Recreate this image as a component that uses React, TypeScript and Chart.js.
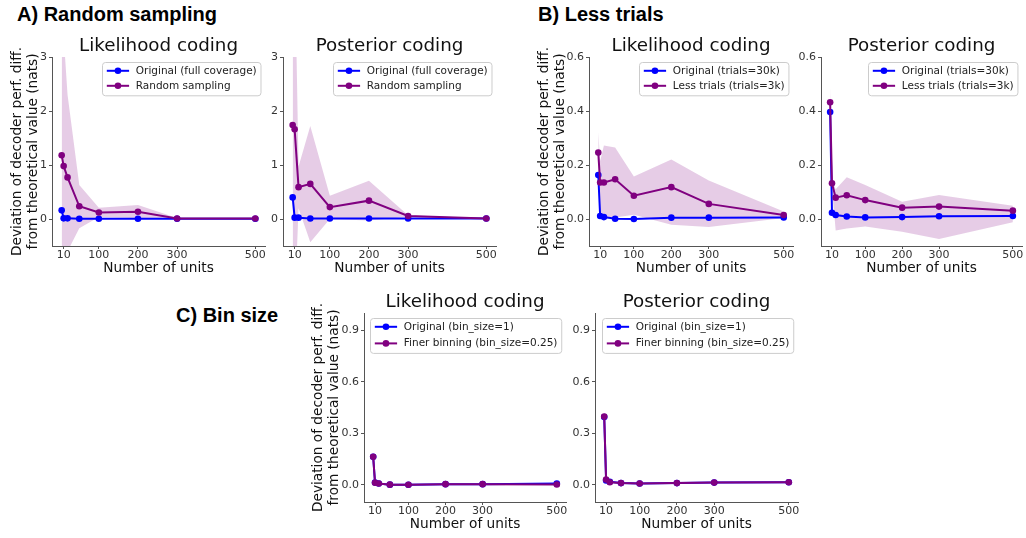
import React, { useEffect, useRef } from "react";
import { Chart, registerables } from "chart.js";

Chart.register(...registerables);

const FONT = '"DejaVu Sans", sans-serif';
const BLUE = "#0000ff";
const PURPLE = "#800080";
const BAND = "rgba(128, 0, 128, 0.2)";
const AXIS = "#555555";
const TICK_TEXT = "#333333";

// ---------- data ----------
const UNITS = [5, 10, 20, 50, 100, 200, 300, 500];
const X_TICKS = [10, 100, 200, 300, 500];
const X_TICK_LABELS = ["10", "100", "200", "300", "500"];
const X_MIN = -19.75;
const X_MAX = 524.75;

const A_Y_TICKS = [0, 1, 2, 3];
const A_Y_LABELS = ["0", "1", "2", "3"];
const B_Y_TICKS = [0, 0.2, 0.4, 0.6];
const B_Y_LABELS = ["0.0", "0.2", "0.4", "0.6"];
const C_Y_TICKS = [0, 0.3, 0.6, 0.9];
const C_Y_LABELS = ["0.0", "0.3", "0.6", "0.9"];

// A) Random sampling
const A_LIK_ORIG = [0.16, 0.012, 0.012, 0.005, 0.005, 0.005, 0.005, 0.005];
const A_LIK_RAND = [1.18, 0.98, 0.77, 0.235, 0.12, 0.135, 0.008, 0.008];
const A_LIK_RAND_UP = [4.4, 3.4, 2.3, 0.63, 0.21, 0.26, 0.02, 0.012];
const A_LIK_RAND_LO = [-2.0, -1.4, -0.6, -0.17, 0.035, 0.015, 0.0, 0.005];

const A_POST_ORIG = [0.4, 0.025, 0.025, 0.01, 0.01, 0.01, 0.01, 0.01];
const A_POST_RAND = [1.74, 1.66, 0.59, 0.65, 0.22, 0.34, 0.055, 0.01];
const A_POST_RAND_UP = [4.8, 5.0, 0.97, 1.72, 0.43, 0.71, 0.07, 0.015];
const A_POST_RAND_LO = [-1.3, -1.7, 0.2, -0.43, 0.0, -0.03, 0.04, 0.005];

// B) Less trials
const B_LIK_ORIG = [0.163, 0.011, 0.007, 0.001, 0.0, 0.005, 0.005, 0.006];
const B_LIK_LESS = [0.246, 0.135, 0.135, 0.147, 0.086, 0.118, 0.056, 0.015];
const B_LIK_LESS_UP = [0.322, 0.215, 0.272, 0.265, 0.157, 0.22, 0.143, 0.028];
const B_LIK_LESS_LO = [0.17, 0.0, 0.0, 0.006, 0.016, -0.021, -0.03, 0.004];

const B_POST_ORIG = [0.396, 0.023, 0.015, 0.009, 0.006, 0.007, 0.01, 0.011];
const B_POST_LESS = [0.432, 0.132, 0.079, 0.088, 0.07, 0.042, 0.046, 0.031];
const B_POST_LESS_UP = [0.49, 0.15, 0.11, 0.155, 0.126, 0.064, 0.089, 0.049];
const B_POST_LESS_LO = [0.374, 0.114, -0.043, -0.035, -0.028, -0.047, -0.074, -0.012];

// C) Bin size
const C_LIK_ORIG = [0.163, 0.013, 0.008, 0.001, 0.0, 0.004, 0.004, 0.008];
const C_LIK_FINE = [0.163, 0.012, 0.008, 0.001, 0.0, 0.004, 0.004, 0.002];
const C_POST_ORIG = [0.395, 0.025, 0.018, 0.01, 0.008, 0.01, 0.013, 0.015];
const C_POST_FINE = [0.397, 0.031, 0.015, 0.01, 0.008, 0.01, 0.013, 0.015];

const Y_TITLE = ["Deviation of decoder perf. diff.", "from theoretical value (nats)"];
const X_TITLE = "Number of units";

const A_LABELS = ["Original (full coverage)", "Random sampling"];
const B_LABELS = ["Original (trials=30k)", "Less trials (trials=3k)"];
const C_LABELS = ["Original (bin_size=1)", "Finer binning (bin_size=0.25)"];

// ---------- layout ----------
const TITLE_H = 20;
const XSCALE_H = 31;
const PAD_BOTTOM = 4;

type Geom = { L: number; T: number; R: number; B: number; yW: number; padR: number };

type Spec = {
  title: string;
  geom: Geom;
  yMin: number;
  yMax: number;
  yTicks: number[];
  yLabels: string[];
  yTitle: boolean;
  orig: number[];
  other: number[];
  upper?: number[];
  lower?: number[];
  labels: string[];
  rowGap: number;
};

const SPECS: Spec[] = [
  {
    title: "Likelihood coding",
    geom: { L: 52, T: 57, R: 265, B: 246, yW: 43, padR: 12 },
    yMin: -0.5, yMax: 3, yTicks: A_Y_TICKS, yLabels: A_Y_LABELS, yTitle: true,
    orig: A_LIK_ORIG, other: A_LIK_RAND, upper: A_LIK_RAND_UP, lower: A_LIK_RAND_LO,
    labels: A_LABELS, rowGap: 15,
  },
  {
    title: "Posterior coding",
    geom: { L: 283, T: 57, R: 496, B: 246, yW: 30, padR: 12 },
    yMin: -0.5, yMax: 3, yTicks: A_Y_TICKS, yLabels: A_Y_LABELS, yTitle: false,
    orig: A_POST_ORIG, other: A_POST_RAND, upper: A_POST_RAND_UP, lower: A_POST_RAND_LO,
    labels: A_LABELS, rowGap: 15,
  },
  {
    title: "Likelihood coding",
    geom: { L: 589, T: 57, R: 793, B: 246, yW: 53, padR: 12 },
    yMin: -0.1, yMax: 0.6, yTicks: B_Y_TICKS, yLabels: B_Y_LABELS, yTitle: true,
    orig: B_LIK_ORIG, other: B_LIK_LESS, upper: B_LIK_LESS_UP, lower: B_LIK_LESS_LO,
    labels: B_LABELS, rowGap: 15,
  },
  {
    title: "Posterior coding",
    geom: { L: 821, T: 57, R: 1023, B: 246, yW: 30, padR: 3 },
    yMin: -0.1, yMax: 0.6, yTicks: B_Y_TICKS, yLabels: B_Y_LABELS, yTitle: false,
    orig: B_POST_ORIG, other: B_POST_LESS, upper: B_POST_LESS_UP, lower: B_POST_LESS_LO,
    labels: B_LABELS, rowGap: 15,
  },
  {
    title: "Likelihood coding",
    geom: { L: 364, T: 313, R: 566, B: 502, yW: 54, padR: 12 },
    yMin: -0.1, yMax: 1.0, yTicks: C_Y_TICKS, yLabels: C_Y_LABELS, yTitle: true,
    orig: C_LIK_ORIG, other: C_LIK_FINE,
    labels: C_LABELS, rowGap: 16.6,
  },
  {
    title: "Posterior coding",
    geom: { L: 595, T: 313, R: 798, B: 502, yW: 30, padR: 12 },
    yMin: -0.1, yMax: 1.0, yTicks: C_Y_TICKS, yLabels: C_Y_LABELS, yTitle: false,
    orig: C_POST_ORIG, other: C_POST_FINE,
    labels: C_LABELS, rowGap: 16.6,
  },
];

function pts(values: number[]) {
  return UNITS.map((u, i) => ({ x: u, y: values[i] }));
}

function roundedRect(ctx: CanvasRenderingContext2D, x: number, y: number, w: number, h: number, r: number) {
  ctx.beginPath();
  ctx.moveTo(x + r, y);
  ctx.lineTo(x + w - r, y);
  ctx.arcTo(x + w, y, x + w, y + r, r);
  ctx.lineTo(x + w, y + h - r);
  ctx.arcTo(x + w, y + h, x + w - r, y + h, r);
  ctx.lineTo(x + r, y + h);
  ctx.arcTo(x, y + h, x, y + h - r, r);
  ctx.lineTo(x, y + r);
  ctx.arcTo(x, y, x + r, y, r);
  ctx.closePath();
}

const boxLegend = {
  id: "boxLegend",
  afterDraw(chart: any, _args: any, opts: any) {
    const items = (opts && opts.items) as { text: string; color: string }[];
    if (!items || !items.length) return;
    const { ctx, chartArea } = chart;
    ctx.save();
    ctx.font = `${opts.fontSize}px ${FONT}`;
    let tw = 0;
    for (const it of items) tw = Math.max(tw, ctx.measureText(it.text).width);
    const padL = 4.3, handle = 22.3, gap = 6.7, padR = 4.3, padT = 8.3, padB = 10;
    const w = padL + handle + gap + tw + padR;
    const h = padT + (items.length - 1) * opts.rowGap + padB;
    const x0 = Math.round(chartArea.right - opts.inset - w) + 0.5;
    const y0 = Math.round(chartArea.top + opts.inset) + 0.5;
    roundedRect(ctx, x0, y0, w, h, 3);
    ctx.fillStyle = "rgba(255,255,255,0.8)";
    ctx.fill();
    ctx.strokeStyle = "#cccccc";
    ctx.lineWidth = 1;
    ctx.stroke();
    items.forEach((it, i) => {
      const cy = y0 + padT + i * opts.rowGap;
      ctx.strokeStyle = it.color;
      ctx.lineWidth = 2;
      ctx.beginPath();
      ctx.moveTo(x0 + padL, cy);
      ctx.lineTo(x0 + padL + handle, cy);
      ctx.stroke();
      ctx.fillStyle = it.color;
      ctx.beginPath();
      ctx.arc(x0 + padL + handle / 2, cy, 3.3, 0, Math.PI * 2);
      ctx.fill();
      ctx.fillStyle = "#222222";
      ctx.textBaseline = "middle";
      ctx.textAlign = "left";
      ctx.fillText(it.text, x0 + padL + handle + gap, cy);
    });
    ctx.restore();
  },
};

function canvasBox(g: Geom) {
  return {
    left: g.L - g.yW,
    top: g.T - TITLE_H,
    w: g.yW + (g.R - g.L) + g.padR,
    h: TITLE_H + (g.B - g.T) + XSCALE_H + PAD_BOTTOM,
  };
}

function makeConfig(s: Spec): any {
  const datasets: any[] = [];
  if (s.upper && s.lower) {
    datasets.push({
      label: "lower", data: pts(s.lower), borderWidth: 0, borderColor: "rgba(0,0,0,0)",
      pointRadius: 0, fill: false, order: 3,
    });
    datasets.push({
      label: "upper", data: pts(s.upper), borderWidth: 0, borderColor: "rgba(0,0,0,0)",
      backgroundColor: BAND, pointRadius: 0, fill: "-1", order: 2,
    });
  }
  const line = (label: string, values: number[], color: string, order: number) => ({
    label, data: pts(values), borderColor: color, backgroundColor: color, borderWidth: 2,
    pointRadius: 3.3, pointBorderWidth: 0, pointBackgroundColor: color, pointBorderColor: color,
    fill: false, order,
  });
  datasets.push(line(s.labels[0], s.orig, BLUE, 1));
  datasets.push(line(s.labels[1], s.other, PURPLE, 0));

  const grid = { display: true, drawOnChartArea: false, drawTicks: true, tickLength: 3, color: AXIS, lineWidth: 1 };
  const border = { display: true, color: AXIS, width: 1 };

  return {
    type: "line",
    data: { datasets },
    plugins: [boxLegend],
    options: {
      animation: false,
      responsive: false,
      maintainAspectRatio: false,
      devicePixelRatio: 1,
      events: [],
      layout: { padding: { left: 0, top: 0, right: s.geom.padR, bottom: PAD_BOTTOM } },
      scales: {
        x: {
          type: "linear",
          min: X_MIN,
          max: X_MAX,
          afterBuildTicks: (sc: any) => { sc.ticks = X_TICKS.map((v) => ({ value: v })); },
          afterFit: (sc: any) => { sc.height = XSCALE_H; },
          ticks: {
            autoSkip: false, maxRotation: 0, padding: 0, color: TICK_TEXT,
            font: { family: FONT, size: 11 },
            callback: (v: number) => X_TICK_LABELS[X_TICKS.indexOf(v)],
          },
          grid, border,
          title: { display: true, text: X_TITLE, color: "#111111", font: { family: FONT, size: 13.7 }, padding: { top: 0, bottom: 0 } },
        },
        y: {
          type: "linear",
          min: s.yMin,
          max: s.yMax,
          afterBuildTicks: (sc: any) => { sc.ticks = s.yTicks.map((v) => ({ value: v })); },
          afterFit: (sc: any) => { sc.width = s.geom.yW; },
          ticks: {
            padding: 2, color: TICK_TEXT, font: { family: FONT, size: 11 },
            callback: (v: number) => s.yLabels[s.yTicks.indexOf(v)],
          },
          grid, border,
          title: {
            display: s.yTitle, text: Y_TITLE, color: "#111111",
            font: { family: FONT, size: 13.7 }, padding: { top: 0, bottom: 0 },
          },
        },
      },
      plugins: {
        legend: { display: false },
        tooltip: { enabled: false },
        title: {
          display: true, text: s.title, color: "#111111", fullSize: false,
          font: { family: FONT, size: 18.3, weight: "normal", lineHeight: 1 },
          padding: { top: 0, bottom: 1.7 },
        },
        boxLegend: {
          items: [{ text: s.labels[0], color: BLUE }, { text: s.labels[1], color: PURPLE }],
          fontSize: 10.5, rowGap: s.rowGap, inset: 5,
        },
      },
    },
  };
}

function Panel({ spec }: { spec: Spec }) {
  const ref = useRef<HTMLCanvasElement>(null);
  const box = canvasBox(spec.geom);
  useEffect(() => {
    if (!ref.current) return;
    const chart = new Chart(ref.current, makeConfig(spec));
    return () => chart.destroy();
  }, [spec]);
  return (
    <canvas
      ref={ref}
      width={box.w}
      height={box.h}
      style={{ position: "absolute", left: box.left, top: box.top, width: box.w, height: box.h }}
    />
  );
}

const HEAD_STYLE: React.CSSProperties = {
  position: "absolute",
  fontFamily: '"Liberation Sans", Arial, sans-serif',
  fontWeight: "bold",
  fontSize: "20px",
  lineHeight: "20px",
  color: "#000",
  whiteSpace: "nowrap",
};

export default function App() {
  return (
    <div
      style={{
        position: "fixed", left: 0, top: 0, width: 1026, height: 538,
        overflow: "hidden", background: "#ffffff",
      }}
    >
      <div style={{ ...HEAD_STYLE, left: 17, top: 4 }}>A) Random sampling</div>
      <div style={{ ...HEAD_STYLE, left: 538, top: 4 }}>B) Less trials</div>
      <div style={{ ...HEAD_STYLE, left: 176, top: 305 }}>C) Bin size</div>
      {SPECS.map((s, i) => (
        <Panel key={i} spec={s} />
      ))}
    </div>
  );
}
